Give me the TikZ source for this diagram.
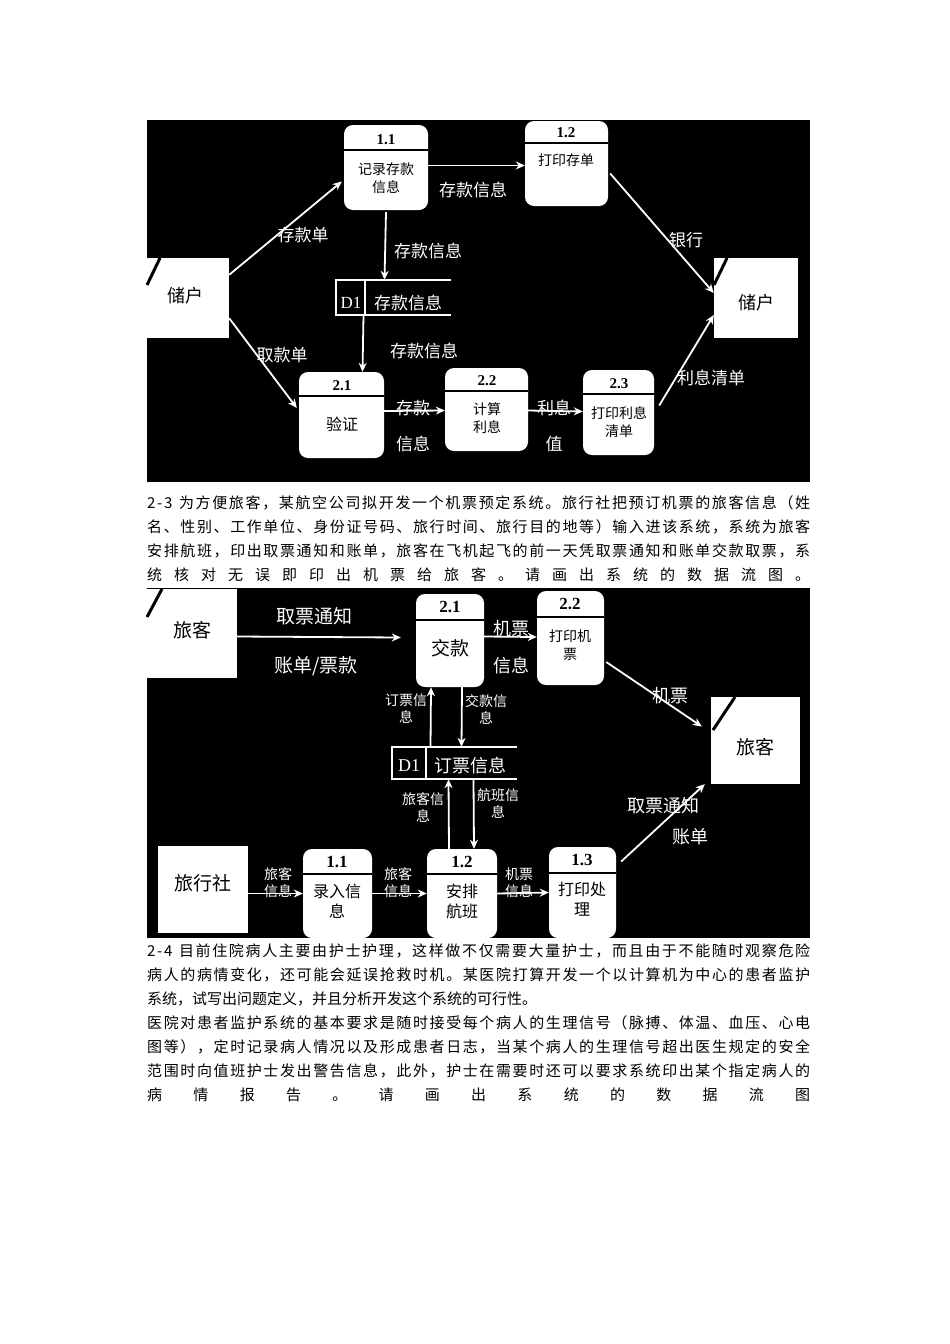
\documentclass[tikz,border=0pt]{standalone}
\usepackage{fontspec}
\setmainfont{Liberation Serif}
\newfontfamily\cjk{Noto Sans CJK SC}
\newfontfamily\numf{Liberation Serif}
\usetikzlibrary{fit,calc,arrows.meta}
\def\sprend{\sprend}
\def\spr#1{\ifx#1\sprend\unskip\else#1\hskip0pt plus 1fil\expandafter\spr\fi}
\newcommand\spreadline[1]{\makebox[663pt][s]{\spr#1\sprend}}
\begin{document}
\begin{tikzpicture}[x=1pt,y=-1pt,
  panel/.style={fill=black},
  ent/.style={fill=white,draw=none,inner sep=0pt},
  proc/.style={fill=white,draw=none,rounded corners=9pt,inner sep=0pt},
  arr/.style={draw=white,line width=1.8pt,-{Stealth[length=9pt,width=8pt]}},
  wl/.style={text=white,font=\cjk\fontsize{17}{19}\selectfont,inner sep=0pt},
  wls/.style={text=white,font=\cjk\fontsize{14}{17}\selectfont,inner sep=0pt,align=center},
  bt/.style={text=black,font=\cjk\fontsize{14}{18}\selectfont,inner sep=0pt,align=center},
  num/.style={text=black,font=\numf\bfseries\fontsize{15}{15}\selectfont,inner sep=0pt},
  para/.style={anchor=west,inner sep=0pt,font=\cjk\fontsize{15}{24}\selectfont}]
\useasboundingbox (0,0) rectangle (950,1344);
\fill[white] (0,0) rectangle (950,1344);
% ---------------- panel 1
\fill[panel] (147,120) rectangle (810,482);
\node[ent,fit={(147,258)(229,338)}] (e1) {};
\node[bt,font=\cjk\fontsize{18}{20}\selectfont] (e1t) at (185,296) {储户};
\node[proc,fit={(344,125)(428,210)}] (p11) {};
\draw[line width=2pt] (344,150) -- (428,150);
\node[num] (p11n) at (386,140) {1.1};
\node[bt] (p11t) at (386,178) {记录存款\\信息};
\node[proc,fit={(525,121)(608,206)}] (p12) {};
\draw[line width=2pt] (525,143) -- (608,143);
\node[num] (p12n) at (566,133) {1.2};
\node[bt] (p12t) at (566,160) {打印存单};
\node[ent,fit={(714,258)(798,338)}] (e2) {};
\node[bt,font=\cjk\fontsize{18}{20}\selectfont] (e2t) at (756,303) {储户};
\draw[line width=3pt] (727,258) -- (714,285);
\draw[line width=3pt] (160,258) -- (147,285);
% store D1
\node[inner sep=0pt,fit={(336,280)(451,315)}] (d1) {};
\draw[white,line width=1.5pt] (451,280) -- (336,280) -- (336,315) -- (451,315);
\draw[white,line width=1.5pt] (365,280) -- (365,315);
\node[wl,font=\numf\fontsize{17}{19}\selectfont] (d1a) at (351,303) {D1};
\node[wl] (d1b) at (408,303) {存款信息};
\node[proc,fit={(299,372)(384,458)}] (p21) {};
\draw[line width=2pt] (299,396) -- (384,396);
\node[num] (p21n) at (342,386) {2.1};
\node[bt,font=\cjk\fontsize{16}{18}\selectfont] (p21t) at (342,424) {验证};
\node[proc,fit={(445,368)(528,451)}] (p22) {};
\draw[line width=2pt] (445,391) -- (528,391);
\node[num] (p22n) at (487,381) {2.2};
\node[bt] (p22t) at (487,418) {计算\\利息};
\node[proc,fit={(583,370)(654,455)}] (p23) {};
\draw[line width=2pt] (583,394) -- (654,394);
\node[num] (p23n) at (619,384) {2.3};
\node[bt] (p23t) at (619,422) {打印利息\\清单};
% arrows panel 1
\draw[arr] ($(e1.north east)+(0,17)$) -- ($(p11.west)+(-2,14)$);
\draw[arr] ($(p11.east)+(0,-2)$) -- ($(p12.west)+(0,2)$);
\draw[arr] ($(p12.east)+(2,10)$) -- ($(e2.west)+(0,-5)$);
\draw[arr] ($(p11.south)+(0,2)$) -- ($(d1.north)+(-9,0)$);
\draw[arr] ($(d1.south)+(-30,0)$) -- ($(p21.north)+(21,0)$);
\draw[arr] ($(e1.south east)+(0,-20)$) -- ($(p21.west)+(-2,-7)$);
\draw[arr] ($(p21.east)+(0,-4)$) -- ($(p22.west)+(0,1)$);
\draw[arr] ($(p22.east)+(0,1)$) -- ($(p23.west)+(0,-1)$);
\draw[arr] ($(p23.east)+(5,-7)$) -- ($(e2.west)+(0,17)$);
% labels panel 1
\node[wl] (l1) at (303,235) {存款单};
\node[wl] (l2) at (473,190) {存款信息};
\node[wl] (l3) at (686,240) {银行};
\node[wl] (l4) at (428,251) {存款信息};
\node[wl] (l5) at (424,351) {存款信息};
\node[wl] (l6) at (282,355) {取款单};
\node[wl] (l7) at (413,408) {存款};
\node[wl] (l8) at (413,444) {信息};
\node[wl] (l9) at (554,408) {利息};
\node[wl] (l10) at (554,444) {值};
\node[wl] (l11) at (711,378) {利息清单};
% ---------------- paragraph 2-3
\node[para] (a1) at (147,503) {\spreadline{2-3\ 为方便旅客，某航空公司拟开发一个机票预定系统。旅行社把预订机票的旅客信息（姓}};
\node[para] (a2) at (147,527) {\spreadline{名、性别、工作单位、身份证号码、旅行时间、旅行目的地等）输入进该系统，系统为旅客}};
\node[para] (a3) at (147,551) {\spreadline{安排航班，印出取票通知和账单，旅客在飞机起飞的前一天凭取票通知和账单交款取票，系}};
\node[para] (a4) at (147,575) {\spreadline{统核对无误即印出机票给旅客。请画出系统的数据流图。}};
% ---------------- panel 2
\fill[panel] (147,588) rectangle (810,938);
\node[ent,fit={(147,589)(237,678)}] (t1) {};
\node[bt,font=\cjk\fontsize{19}{21}\selectfont] (t1t) at (192,630) {旅客};
\draw[line width=3pt] (162,589) -- (147,617);
\node[proc,fit={(416,594)(484,687)}] (q21) {};
\draw[line width=2pt] (416,620) -- (484,620);
\node[num,font=\numf\bfseries\fontsize{17}{17}\selectfont] (q21n) at (450,607) {2.1};
\node[bt,font=\cjk\fontsize{19}{21}\selectfont] (q21t) at (450,648) {交款};
\node[proc,fit={(537,591)(604,685)}] (q22) {};
\draw[line width=2pt] (537,617) -- (604,617);
\node[num,font=\numf\bfseries\fontsize{17}{17}\selectfont] (q22n) at (570,604) {2.2};
\node[bt] (q22t) at (570,645) {打印机\\票};
\node[ent,fit={(711,697)(800,784)}] (t2) {};
\node[bt,font=\cjk\fontsize{19}{21}\selectfont] (t2t) at (755,747) {旅客};
\draw[line width=3pt] (735,697) -- (713,730);
\node[inner sep=0pt,fit={(392,747)(517,779)}] (d2) {};
\draw[white,line width=1.5pt] (517,747) -- (392,747) -- (392,779) -- (517,779);
\draw[white,line width=1.5pt] (426,747) -- (426,779);
\node[wl,font=\numf\fontsize{18}{19}\selectfont] (d2a) at (409,766) {D1};
\node[wl,font=\cjk\fontsize{18}{20}\selectfont] (d2b) at (470,766) {订票信息};
\node[ent,fit={(158,846)(248,933)}] (ts) {};
\node[bt,font=\cjk\fontsize{19}{21}\selectfont] (tst) at (203,883) {旅行社};
\node[proc,fit={(303,849)(372,938)}] (r11) {};
\draw[line width=2pt] (303,874) -- (372,874);
\node[num,font=\numf\bfseries\fontsize{17}{17}\selectfont] (r11n) at (337,862) {1.1};
\node[bt,font=\cjk\fontsize{16}{20}\selectfont] (r11t) at (337,901) {录入信\\息};
\node[proc,fit={(427,849)(497,938)}] (r12) {};
\draw[line width=2pt] (427,874) -- (497,874);
\node[num,font=\numf\bfseries\fontsize{17}{17}\selectfont] (r12n) at (462,862) {1.2};
\node[bt,font=\cjk\fontsize{16}{20}\selectfont] (r12t) at (462,901) {安排\\航班};
\node[proc,fit={(549,847)(616,938)}] (r13) {};
\draw[line width=2pt] (549,873) -- (616,873);
\node[num,font=\numf\bfseries\fontsize{17}{17}\selectfont] (r13n) at (582,860) {1.3};
\node[bt,font=\cjk\fontsize{16}{20}\selectfont] (r13t) at (582,899) {打印处\\理};
% arrows panel 2
\draw[arr] ($(t1.east)+(0,3)$) -- ($(q21.west)+(-15,-3)$);
\draw[arr] ($(q21.east)+(0,-4)$) -- ($(q22.west)+(0,-1)$);
\draw[arr] ($(q22.east)+(2,24)$) -- ($(t2.west)+(-9,-14)$);
\draw[arr] ($(q21.south)+(12,0)$) -- ($(d2.north)+(7,0)$);
\draw[arr] ($(d2.north)+(-24,0)$) -- ($(q21.south)+(-19,0)$);
\draw[arr] ($(d2.south)+(19,0)$) -- ($(r12.north)+(12,0)$);
\draw[arr] ($(r12.north)+(-13,0)$) -- ($(d2.south)+(-6,0)$);
\draw[arr] ($(ts.east)+(0,4)$) -- ($(r11.west)+(0,0)$);
\draw[arr] ($(r11.east)+(0,0)$) -- ($(r12.west)+(0,0)$);
\draw[arr] ($(r12.east)+(0,0)$) -- ($(r13.west)+(0,0)$);
\draw[arr] ($(r13.east)+(5,-31)$) -- ($(t2.south west)+(-6,0)$);
% labels panel 2
\node[wl,font=\cjk\fontsize{19}{21}\selectfont] (m1) at (314,616) {取票通知};
\node[wl,font=\cjk\fontsize{19}{21}\selectfont] (m2) at (316,666) {账单/票款};
\node[wl,font=\cjk\fontsize{18}{20}\selectfont] (m3) at (511,629) {机票};
\node[wl,font=\cjk\fontsize{18}{20}\selectfont] (m4) at (511,666) {信息};
\node[wl,font=\cjk\fontsize{18}{20}\selectfont] (m5) at (670,696) {机票};
\node[wls] (m6) at (406,709) {订票信\\息};
\node[wls] (m7) at (486,709) {交款信\\息};
\node[wls] (m8) at (423,807) {旅客信\\息};
\node[wls] (m9) at (498,803) {航班信\\息};
\node[wl,font=\cjk\fontsize{18}{20}\selectfont] (m10) at (663,806) {取票通知};
\node[wl,font=\cjk\fontsize{18}{20}\selectfont] (m11) at (690,837) {账单};
\node[wls] (m12) at (278,883) {旅客\\信息};
\node[wls] (m13) at (398,883) {旅客\\信息};
\node[wls] (m14) at (519,883) {机票\\信息};
% ---------------- paragraph 2-4
\node[para] (b1) at (147,951) {\spreadline{2-4\ 目前住院病人主要由护士护理，这样做不仅需要大量护士，而且由于不能随时观察危险}};
\node[para] (b2) at (147,975) {\spreadline{病人的病情变化，还可能会延误抢救时机。某医院打算开发一个以计算机为中心的患者监护}};
\node[para] (b3) at (147,999) {系统，试写出问题定义，并且分析开发这个系统的可行性。};
\node[para] (b4) at (147,1023) {\spreadline{医院对患者监护系统的基本要求是随时接受每个病人的生理信号（脉搏、体温、血压、心电}};
\node[para] (b5) at (147,1047) {\spreadline{图等），定时记录病人情况以及形成患者日志，当某个病人的生理信号超出医生规定的安全}};
\node[para] (b6) at (147,1071) {\spreadline{范围时向值班护士发出警告信息，此外，护士在需要时还可以要求系统印出某个指定病人的}};
\node[para] (b7) at (147,1095) {\spreadline{病情报告。请画出系统的数据流图}};
\end{tikzpicture}
\end{document}
